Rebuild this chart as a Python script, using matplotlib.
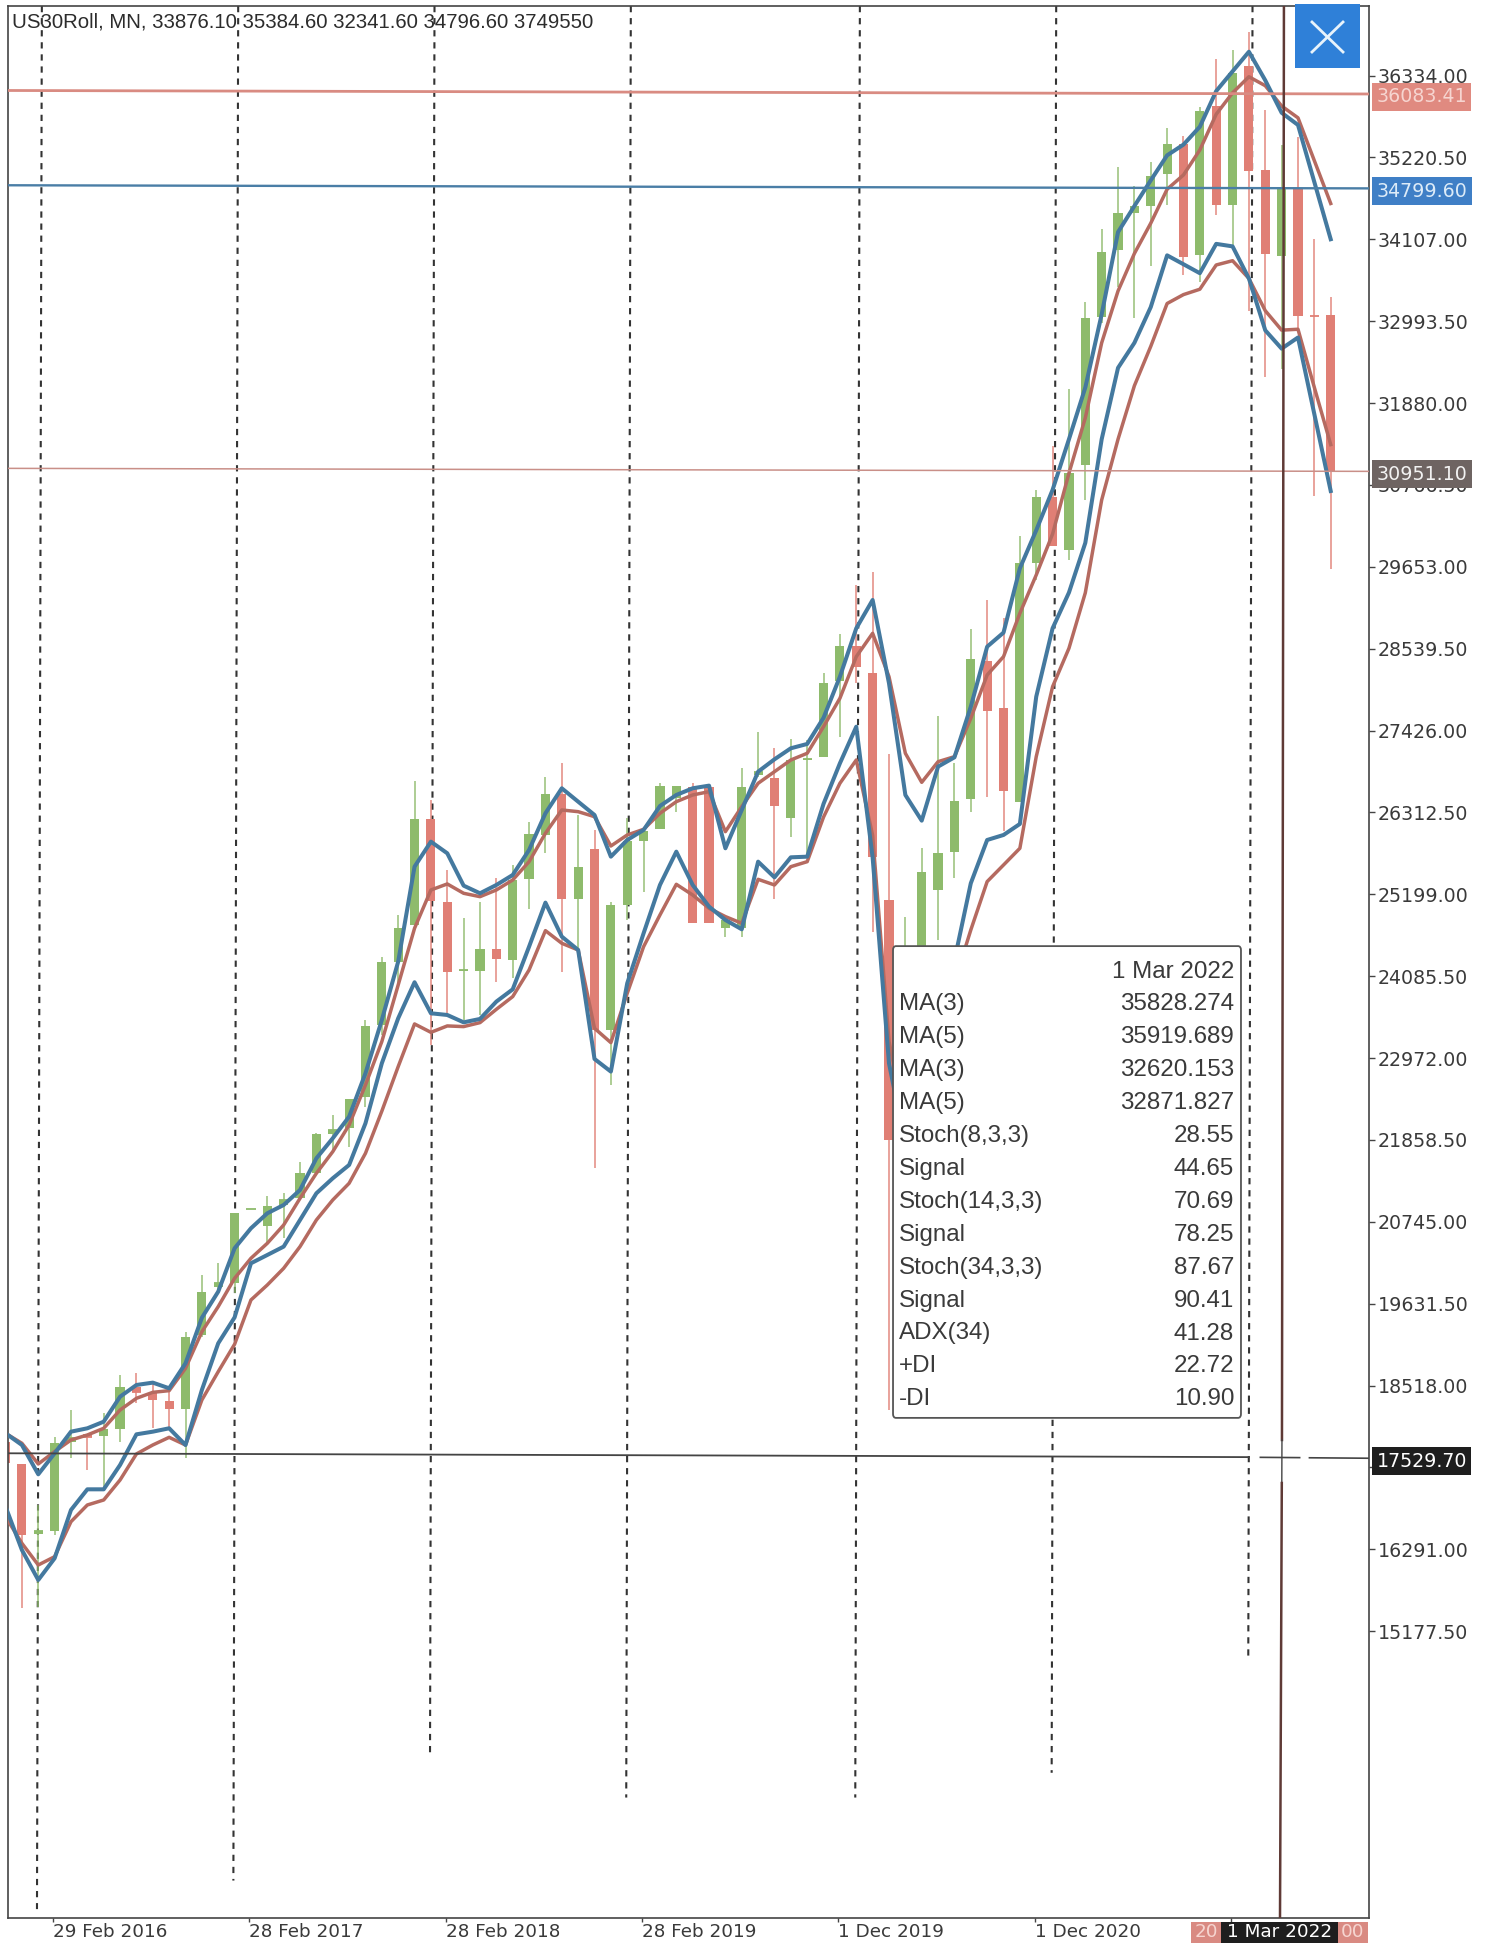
import matplotlib
matplotlib.use("Agg")
import matplotlib.pyplot as plt
import numpy as np
from matplotlib.lines import Line2D
from matplotlib.patches import FancyBboxPatch, Rectangle

W, H = 1489, 1944

#Chart data: monthly bars, first bar sits at index -2
##########################################################################################
opens = [17755, 17452, 16495, 16545, 17755, 17855, 17832, 17923, 18494, 18422, 18308, 18200,
         19206, 19864, 19909, 20915, 20693, 20974, 21065, 21405, 21940, 22017, 22447, 23422,
         24284, 24782, 26224, 25100, 24155, 24161, 24456, 24306, 25408, 26006, 26564, 25136,
         25811, 23354, 25054, 25929, 26083, 26505, 26663, 26663, 24737, 24737, 26822, 26777,
         26233, 27030, 27071, 28105, 28581, 28214, 25122, 21900, 23800, 25258, 25780, 26496,
         28377, 27729, 26460, 29701, 30601, 29882, 31033, 33049, 33962, 34462, 34560, 34997,
         35405, 33899, 35915, 34579, 36463, 35055, 33876.1, 34788, 33068, 33073]
closes = [17470, 16486, 16540, 17733, 17801, 17823, 17923, 18494, 18435, 18322, 18200, 19183,
          19796, 19909, 20861, 20925, 20960, 21042, 21405, 21935, 21994, 22416, 23409, 24274,
          24737, 26224, 25108, 24147, 24165, 24456, 24324, 25394, 26015, 26564, 25136, 25575,
          23354, 25050, 25929, 26060, 26677, 26677, 24814, 24814, 24850, 26663, 26867, 26400,
          27026, 27040, 28078, 28581, 28286, 25712, 21863, 23400, 25508, 25766, 26473, 28400,
          27697, 26605, 29701, 30601, 29931, 30926, 33039, 33928, 34462, 34555, 34967, 35405,
          33865, 35847, 34579, 36366, 35031, 33904, 34796.6, 33064, 33060, 30951.1]
highs = [17755, 17452, 16894, 17823, 18186, 17855, 18141, 18662, 18685, 18571, 18458, 19251,
         20022, 20181, 20861, 20925, 21096, 21133, 21563, 21949, 22198, 22416, 23490, 24352,
         24918, 26740, 26482, 25530, 24873, 25099, 25417, 25598, 26187, 26799, 26981, 26278,
         26074, 25100, 26233, 26120, 26709, 26677, 26709, 26685, 24850, 26913, 27411, 27185,
         27307, 27300, 28205, 28735, 29406, 29587, 27108, 24896, 25825, 27625, 26981, 28803,
         29202, 28953, 30078, 30700, 31291, 32068, 33258, 34254, 35089, 34836, 35162, 35623,
         35516, 35905, 36561, 36682, 36925, 35866, 35384.6, 35492, 34108, 33316]
lows = [17470, 15489, 15512, 16486, 17529, 17370, 17143, 17755, 18277, 17937, 17937, 17529,
        19184, 19818, 19773, 20915, 20430, 20521, 21065, 21395, 21677, 21758, 22300, 23286,
        23966, 24782, 23150, 23581, 23490, 23558, 24012, 24057, 24995, 25766, 24138, 24442,
        21477, 22606, 24850, 25235, 26083, 26323, 24814, 24814, 24624, 24624, 26800, 25136,
        25983, 25711, 27071, 27344, 28069, 24692, 18180, 21500, 23500, 24578, 25417, 26314,
        26518, 26061, 26460, 29480, 29931, 29740, 30562, 32966, 33452, 33039, 33744, 34569,
        33622, 33525, 34433, 34011, 33136, 32228, 32341.6, 32869, 30620, 29623]

ma3_high = [17869, 17710, 17311, 17597, 17891, 17937, 18027, 18367, 18526, 18558, 18481, 18821,
            19440, 19796, 20385, 20657, 20861, 20974, 21178, 21609, 21881, 22175, 22765, 23490,
            24284, 25575, 25915, 25757, 25317, 25213, 25326, 25462, 25802, 26301, 26641, 26459,
            26278, 25711, 25938, 26074, 26400, 26550, 26641, 26677, 25825, 26346, 26867, 27035,
            27185, 27244, 27600, 28159, 28817, 29202, 28069, 26550, 26201, 26936, 27062, 27751,
            28567, 28758, 29633, 30150, 30700, 31388, 32092, 33088, 34205, 34560, 34909, 35249,
            35395, 35638, 36123, 36391, 36658, 36269, 35828.274, 35662, 34885, 34108]
ma5_high = [17869, 17733, 17452, 17620, 17778, 17846, 17937, 18186, 18345, 18426, 18449, 18753,
            19250, 19592, 19977, 20249, 20453, 20702, 21065, 21405, 21699, 22062, 22606, 23196,
            23966, 24737, 25258, 25340, 25213, 25167, 25258, 25394, 25643, 26029, 26346, 26323,
            26255, 25856, 26006, 26083, 26301, 26459, 26550, 26595, 26051, 26391, 26709, 26867,
            27026, 27117, 27479, 27865, 28431, 28749, 28159, 27117, 26722, 27003, 27071, 27593,
            28182, 28431, 29021, 29542, 30100, 30926, 31679, 32699, 33404, 33914, 34326, 34788,
            34982, 35322, 35808, 36099, 36318, 36196, 35919.689, 35759, 35176, 34594]
ma3_low = [16872, 16282, 15874, 16169, 16826, 17107, 17107, 17438, 17855, 17891, 17937, 17710,
           18458, 19093, 19445, 20181, 20294, 20408, 20770, 21133, 21337, 21518, 22085, 22901,
           23513, 24003, 23581, 23558, 23458, 23504, 23740, 23907, 24487, 25086, 24624, 24442,
           22960, 22788, 23989, 24669, 25326, 25779, 25326, 25032, 24850, 24723, 25643, 25430,
           25702, 25711, 26430, 26981, 27479, 25700, 22900, 21800, 21900, 22600, 24300, 25349,
           25938, 26006, 26156, 27887, 28817, 29303, 29979, 31388, 32359, 32699, 33185, 33889,
           33768, 33646, 34045, 34011, 33574, 32869, 32620.153, 32772, 31728, 30684]
ma5_low = [16735, 16373, 16078, 16191, 16667, 16894, 16962, 17234, 17588, 17710, 17814, 17710,
           18322, 18707, 19080, 19682, 19886, 20113, 20408, 20770, 21042, 21269, 21677, 22250,
           22856, 23436, 23322, 23409, 23400, 23454, 23635, 23808, 24170, 24705, 24533, 24442,
           23377, 23182, 23853, 24487, 24918, 25335, 25190, 25009, 24896, 24805, 25403, 25326,
           25575, 25643, 26250, 26709, 27026, 26000, 23200, 22100, 22200, 22700, 24000, 24714,
           25372, 25598, 25825, 27071, 28023, 28545, 29300, 30562, 31388, 32116, 32651, 33234,
           33355, 33428, 33758, 33816, 33574, 33136, 32871.827, 32884, 32092, 31315]

price_ticks = [36334.0, 35220.5, 34107.0, 32993.5, 31880.0, 30766.5, 29653.0, 28539.5, 27426.0,
               26312.5, 25199.0, 24085.5, 22972.0, 21858.5, 20745.0, 19631.5, 18518.0, 17404.5,
               16291.0, 15177.5]
date_ticks = [0.9, 12.9, 24.9, 36.9, 48.9, 60.9, 72.9]
date_labels = ["29 Feb 2016", "28 Feb 2017", "28 Feb 2018", "28 Feb 2019", "1 Dec 2019", "1 Dec 2020", ""]

separator_bars = [0, 12, 24, 36, 50, 62, 74]
separator_ends = [11398, 11786, 13455, 12915, 12915, 13252, 14770]

tooltip_names = ["MA(3)", "MA(5)", "MA(3)", "MA(5)", "Stoch(8,3,3)", "Signal", "Stoch(14,3,3)",
                 "Signal", "Stoch(34,3,3)", "Signal", "ADX(34)", "+DI", "-DI"]
tooltip_values = ["35828.274", "35919.689", "32620.153", "32871.827", "28.55", "44.65", "70.69",
                  "78.25", "87.67", "90.41", "41.28", "22.72", "10.90"]
##########################################################################################

GREEN = "#8ebb6c"
RED = "#e07f75"
BLUE = "#44799f"
BROWN = "#b56a60"
TEXT = "#3a3a3a"

plt.rcParams["font.family"] = ["DejaVu Sans"]


#Pixel position in the picture to figure fractions
def fx(x):
    return x / W


def fy(y):
    return 1 - y / H


fig = plt.figure(figsize=(W / 100, H / 100), dpi=100, facecolor="white")
ax = fig.add_axes([fx(8), fy(1918), (1369 - 8) / W, (1918 - 6) / H])
ax.set_xlim(-1.85, 81.34)
ax.set_ylim(11277, 37280)

bars = np.arange(len(opens)) - 2
opens = np.array(opens)
closes = np.array(closes)
colors = [GREEN if c >= o else RED for o, c in zip(opens, closes)]

#Period separators, the scan is a little rotated so they lean
for bar, end in zip(separator_bars, separator_ends):
    lean = 0.3 * (37280 - end) / (37280 - 11277)
    ax.plot([bar + 0.22, bar + 0.22 - lean], [37280, end], color="#333333", lw=1.5,
            dashes=(3.0, 2.8), zorder=1)

ax.vlines(bars, lows, highs, colors=colors, lw=1.2, alpha=0.85, zorder=2)
ax.bar(bars, np.abs(closes - opens), bottom=np.minimum(opens, closes), width=0.56,
       color=colors, zorder=2.2, linewidth=0)
#dojis still have to show up as a dash
doji = np.abs(closes - opens) < 80
ax.hlines(closes[doji], bars[doji] - 0.28, bars[doji] + 0.28, colors=np.array(colors)[doji], lw=1.3, zorder=2.2)

ax.plot(bars, ma5_high, color=BROWN, lw=2.5, zorder=3)
ax.plot(bars, ma5_low, color=BROWN, lw=2.5, zorder=3)
ax.plot(bars, ma3_high, color=BLUE, lw=2.9, zorder=3.1)
ax.plot(bars, ma3_low, color=BLUE, lw=2.9, zorder=3.1)

#Level lines
ax.plot([-1.85, 81.34], [36131, 36083.41], color="#d98b82", lw=2.0, zorder=3.5)
ax.plot([-1.85, 81.34], [34842, 34799.6], color="#4a7ea6", lw=1.7, zorder=3.5)
ax.plot([-1.85, 81.34], [30992, 30951.1], color="#c98f88", lw=1.1, zorder=3.5)

#Crosshair
ax.plot([-1.85, 74.0], [17597, 17545], color="#444444", lw=1.3, zorder=3.6)
ax.plot([74.7, 77.1], [17542, 17538], color="#444444", lw=1.2, zorder=3.6)
ax.plot([77.7, 81.34], [17536, 17529.7], color="#444444", lw=1.2, zorder=3.6)
ax.plot([76.14, 76.02], [37280, 17778], color="#5f3a36", lw=1.8, zorder=3.6)
ax.plot([76.02, 76.01], [17778, 17193], color="#444444", lw=1.0, zorder=3.6)
ax.plot([76.01, 75.9], [17193, 11277], color="#5f3a36", lw=1.8, zorder=3.6)

#Frame and axes
for side in ax.spines:
    ax.spines[side].set_color("#444444")
    ax.spines[side].set_linewidth(1.2)
ax.yaxis.tick_right()
ax.set_yticks(price_ticks)
ax.set_yticklabels(["%.2f" % p for p in price_ticks], fontsize=13.7, color=TEXT)
ax.tick_params(axis="y", length=4, width=1, pad=2.5, color="#444444")
for label in ax.get_yticklabels():
    label.set_y(label.get_position()[1])
ax.set_xticks(date_ticks)
ax.set_xticklabels(date_labels, fontsize=13.2, color=TEXT, ha="left")
ax.tick_params(axis="x", length=3, width=1, pad=0.5, color="#444444")

#Price tags on the right edge
tag_trans = ax.get_yaxis_transform()
tags = [(36083.41, "36083.41", "#e08a80", "#f6d5d0"),
        (34799.6, "34799.60", "#3f7fc6", "#dcebf8"),
        (30951.1, "30951.10", "#6e6462", "#f2f2f2"),
        (17529.7, "17529.70", "#1e1e1e", "#ffffff")]
for price, label, face, ink in tags:
    ax.text(1.0055, price - 40, label, transform=tag_trans, fontsize=13.7, color=ink, ha="left", va="center",
            clip_on=False, zorder=6, bbox=dict(facecolor=face, edgecolor="none", pad=3.2))

#Header
fig.text(fx(12), fy(22), "US30Roll, MN, 33876.10 35384.60 32341.60 34796.60 3749550",
         family="Liberation Sans", fontsize=14.7, color="#2c2c2c", ha="left", va="center", zorder=8)

#Close button, top right
fig.add_artist(Rectangle((fx(1295), fy(68)), 65 / W, 64 / H, transform=fig.transFigure,
                         facecolor="#2f80d8", edgecolor="none", zorder=7))
for xa, ya, xb, ya2 in [(1312, 22, 1343, 52), (1312, 52, 1343, 22)]:
    fig.add_artist(Line2D([fx(xa), fx(xb)], [fy(ya), fy(ya2)], transform=fig.transFigure,
                          color="#e8f3fb", lw=2.0, zorder=8))

#Info box
fig.add_artist(FancyBboxPatch((fx(896), fy(1414)), (1238 - 896) / W, (1414 - 950) / H,
                              boxstyle="round,pad=0.002,rounding_size=0.002", transform=fig.transFigure,
                              facecolor="white", edgecolor="#555555", lw=1.3, zorder=7))
fig.text(fx(1234), fy(972), "1 Mar 2022", family="Liberation Sans", fontsize=17.4, color=TEXT,
         ha="right", va="center", zorder=8)
for i in range(len(tooltip_names)):
    row_y = 1004 + i * 32.95
    fig.text(fx(899), fy(row_y), tooltip_names[i], family="Liberation Sans", fontsize=17.4, color=TEXT,
             ha="left", va="center", zorder=8)
    fig.text(fx(1234), fy(row_y), tooltip_values[i], family="Liberation Sans", fontsize=17.4, color=TEXT,
             ha="right", va="center", zorder=8)

#Date tags under the crosshair
fig.add_artist(Rectangle((fx(1191), fy(1943)), 177 / W, 21 / H, transform=fig.transFigure,
                         facecolor="#d98a82", edgecolor="none", zorder=7))
fig.add_artist(Rectangle((fx(1221), fy(1943)), 117 / W, 21 / H, transform=fig.transFigure,
                         facecolor="#1e1e1e", edgecolor="none", zorder=7.5))
fig.text(fx(1195), fy(1932), "20", fontsize=13.2, color="#f6d5d0", ha="left", va="center", zorder=8)
fig.text(fx(1341), fy(1932), "00", fontsize=13.2, color="#f6d5d0", ha="left", va="center", zorder=8)
fig.text(fx(1279.5), fy(1932), "1 Mar 2022", fontsize=13.2, color="white", ha="center", va="center", zorder=8)

fig.savefig("out.png", dpi=100, facecolor="white")
